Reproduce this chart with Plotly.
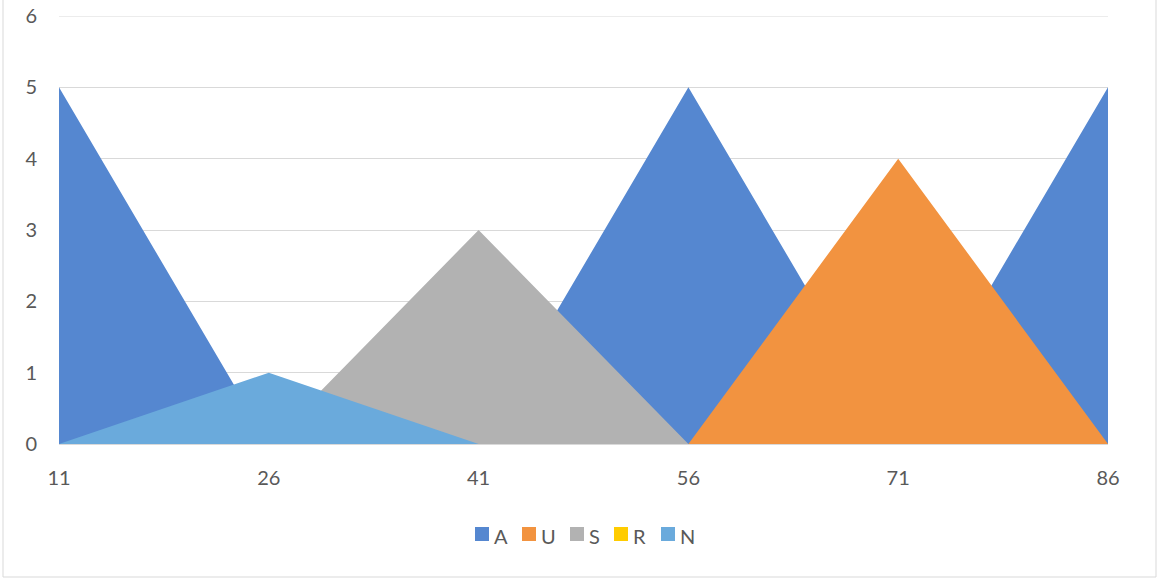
import plotly.graph_objects as go

categories = [11, 26, 41, 56, 71, 86]
series_names = ["A", "U", "S", "R", "N"]
a_vals = [5, 0, 0, 5, 0, 5]
u_vals = [0, 0, 0, 0, 4, 0]
s_vals = [0, 0, 3, 0, 0, 0]
r_vals = [0, 0, 0, 0, 0, 0]
n_vals = [0, 1, 0, 0, 0, 0]
y_ticks = [0, 1, 2, 3, 4, 5, 6]

colors = ["#5587D0", "#F29340", "#B2B2B2", "#FFCC00", "#6AAADC"]
values = [a_vals, u_vals, s_vals, r_vals, n_vals]

W, H = 1160, 579
ML, MR, MT, MB = 59, 52, 16, 135
PW, PH = W - ML - MR, H - MT - MB


def px_x(p):
    return (p - ML) / PW


def px_y(p):
    return (H - MB - p) / PH


fig = go.Figure()
for name, vals, col in zip(series_names, values, colors):
    fig.add_trace(go.Scatter(
        x=categories, y=vals, name=name, mode="none",
        fill="tozeroy", fillcolor=col, showlegend=False,
    ))

tick_font = dict(family="Lato, 'Open Sans', sans-serif", size=20, color="#595959")

# legend row: square swatch followed by its label
legend_left = [475, 522, 570, 614, 661]
shapes = [
    dict(type="line", xref="paper", yref="y", x0=0, x1=1, y0=6, y1=6,
         line=dict(color="#d9d9d9", width=1), layer="below"),
    dict(type="rect", xref="paper", yref="paper",
         x0=px_x(3), x1=px_x(1156), y0=px_y(577), y1=px_y(-4),
         line=dict(color="#d9d9d9", width=1), fillcolor="rgba(0,0,0,0)",
         layer="below"),
]
annotations = []
for name, col, lx in zip(series_names, colors, legend_left):
    shapes.append(dict(type="rect", xref="paper", yref="paper",
                       x0=px_x(lx), x1=px_x(lx + 14), y0=px_y(541), y1=px_y(527),
                       line=dict(width=0), fillcolor=col))
    annotations.append(dict(text=name, xref="paper", yref="paper",
                            x=px_x(lx + 17), y=px_y(536), xanchor="left", yanchor="middle",
                            showarrow=False, font=tick_font))

fig.update_layout(
    width=W, height=H,
    margin=dict(l=ML, r=MR, t=MT, b=MB, autoexpand=False),
    paper_bgcolor="white", plot_bgcolor="white",
    font=tick_font,
    showlegend=False,
    xaxis=dict(range=[11, 86], tickvals=categories, ticktext=[str(c) for c in categories],
               showgrid=False, zeroline=False, showline=True, linecolor="#d9d9d9",
               ticks="", ticklabelstandoff=16, automargin=False),
    yaxis=dict(range=[0, 6], tickvals=y_ticks, showgrid=True, gridcolor="#d9d9d9",
               zeroline=False, showline=False, ticks="", ticklabelstandoff=21,
               automargin=False),
    shapes=shapes,
    annotations=annotations,
)

fig.write_html("out.html")
